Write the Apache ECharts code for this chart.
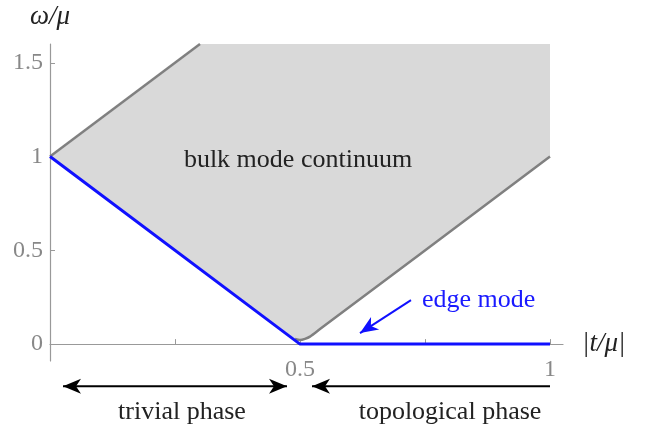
<!DOCTYPE html>
<html>
<head>
<meta charset="utf-8">
<script src="https://cdn.jsdelivr.net/npm/echarts@6/dist/echarts.min.js"></script>
<style>
html,body{margin:0;padding:0;background:#fff;}
#chart{width:662px;height:433px;}
</style>
</head>
<body>
<div id="chart"></div>
<script>
// bulk continuum outline (t/mu, omega/mu)
const bulkX = [0, 0.3, 1, 1, 0.54, 0.52, 0.51, 0.5, 0.49];
const bulkY = [1, 1.6, 1.6, 1, 0.08, 0.04, 0.028, 0.022, 0.028];
// gray edges of the continuum
const upperEdgeX = [0, 0.3];
const upperEdgeY = [1, 1.6];
const lowerEdgeX = [0.49, 0.5, 0.51, 0.52, 0.54, 1];
const lowerEdgeY = [0.028, 0.022, 0.028, 0.04, 0.08, 1];
// lowest excitation (blue)
const edgeX = [0, 0.5, 1];
const edgeY = [1, 0, 0];
// axis ticks
const xTicks = [0.25, 0.5, 0.75, 1];
const xLabels = [0.5, 1];
const yTicks = [0, 0.5, 1, 1.5];
// annotation arrows: [fromX, fromY, toX, toY, headAtStart, headAtEnd]
const edgeArrow = [0.722, 0.235, 0.62, 0.059, false, true];
const trivialArrow = [0.026, -0.224, 0.474, -0.224, true, true];
const topoArrow = [1.0, -0.224, 0.524, -0.224, false, true];
// annotation texts: [x, y, text]
const bulkText = [0.496, 0.98, 'bulk mode continuum'];
const edgeText = [0.744, 0.235, 'edge mode'];
const trivialText = [0.264, -0.362, 'trivial phase'];
const topoText = [0.8, -0.362, 'topological phase'];

const serif = 'Liberation Serif';
const pairs = (xs, ys) => xs.map((x, i) => [x, ys[i]]);

var myChart = echarts.init(document.getElementById('chart'));
myChart.setOption({
    animation: false,
    grid: {left: 50, right: 99, top: 44, bottom: 72},
    xAxis: {
        type: 'value',
        min: 0,
        max: 1.026,
        name: '|t/μ|',
        nameLocation: 'end',
        nameGap: 19,
        nameTextStyle: {fontFamily: serif, fontSize: 27, fontStyle: 'italic', color: '#222', verticalAlign: 'middle'},
        axisLine: {onZero: true, lineStyle: {color: '#999', width: 1.2}},
        axisTick: {inside: true, length: 5, customValues: xTicks, lineStyle: {color: '#999'}},
        axisLabel: {customValues: xLabels, margin: -3, color: '#888', fontFamily: serif, fontSize: 24},
        splitLine: {show: false}
    },
    yAxis: {
        type: 'value',
        min: -0.09,
        max: 1.6,
        name: 'ω/μ',
        nameLocation: 'end',
        nameGap: 14,
        nameTextStyle: {fontFamily: serif, fontSize: 27, fontStyle: 'italic', color: '#222', align: 'center'},
        axisLine: {lineStyle: {color: '#999', width: 1.2}},
        axisTick: {inside: true, length: 5, customValues: yTicks, lineStyle: {color: '#999'}},
        axisLabel: {customValues: yTicks, margin: 7, color: '#888', fontFamily: serif, fontSize: 24},
        splitLine: {show: false}
    },
    series: [
        {
            type: 'custom',
            data: pairs(bulkX, bulkY),
            z: 1,
            renderItem: function (params, api) {
                if (params.dataIndex !== 0) return;
                const pts = bulkX.map((x, i) => api.coord([x, bulkY[i]]));
                return {type: 'polygon', shape: {points: pts}, style: {fill: '#d9d9d9'}};
            }
        },
        {
            type: 'line',
            data: pairs(upperEdgeX, upperEdgeY),
            symbol: 'none',
            z: 2,
            lineStyle: {color: '#808080', width: 2.5}
        },
        {
            type: 'line',
            data: pairs(lowerEdgeX, lowerEdgeY),
            symbol: 'none',
            smooth: 0.3,
            z: 2,
            lineStyle: {color: '#808080', width: 2.5}
        },
        {
            type: 'line',
            data: pairs(edgeX, edgeY),
            symbol: 'none',
            z: 3,
            lineStyle: {color: '#1010ff', width: 3}
        }
    ]
});

// arrows and labels, placed through the grid's own scales
function px(x, y) {
    return myChart.convertToPixel({gridIndex: 0}, [x, y]);
}
function head(tip, from, color) {
    const dx = tip[0] - from[0], dy = tip[1] - from[1];
    const len = Math.sqrt(dx * dx + dy * dy);
    const ux = dx / len, uy = dy / len, nx = -uy, ny = ux;
    const L = 18, W = 7.5, back = 5;
    return {
        type: 'polygon', z: 10,
        shape: {points: [
            tip,
            [tip[0] - L * ux + W * nx, tip[1] - L * uy + W * ny],
            [tip[0] - (L - back) * ux, tip[1] - (L - back) * uy],
            [tip[0] - L * ux - W * nx, tip[1] - L * uy - W * ny]
        ]},
        style: {fill: color}
    };
}
function arrow(a, color, width) {
    const p0 = px(a[0], a[1]), p1 = px(a[2], a[3]);
    const els = [{
        type: 'line', z: 10,
        shape: {x1: p0[0], y1: p0[1], x2: p1[0], y2: p1[1]},
        style: {stroke: color, lineWidth: width}
    }];
    if (a[4]) els.push(head(p0, p1, color));
    if (a[5]) els.push(head(p1, p0, color));
    return els;
}
function text(t, color, align) {
    const p = px(t[0], t[1]);
    return {
        type: 'text', z: 10, x: p[0], y: p[1],
        style: {text: t[2], fill: color, font: '26px "' + serif + '"', align: align || 'center', verticalAlign: 'middle'}
    };
}
myChart.setOption({
    graphic: [].concat(
        arrow(edgeArrow, '#1010ff', 2),
        arrow(trivialArrow, '#000', 2),
        arrow(topoArrow, '#000', 2),
        [text(bulkText, '#222'), text(edgeText, '#1a1aff', 'left'),
         text(trivialText, '#222'), text(topoText, '#222')]
    )
});
</script>
</body>
</html>
